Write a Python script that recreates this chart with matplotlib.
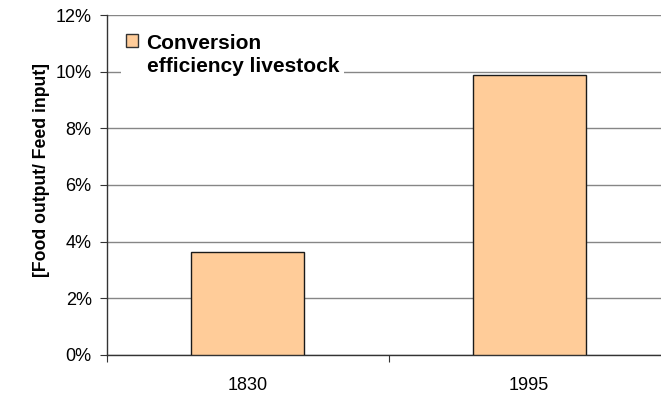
import matplotlib
matplotlib.use("Agg")
import matplotlib.pyplot as plt
from matplotlib.patches import Patch
from matplotlib.ticker import FixedLocator, PercentFormatter

# conversion efficiency of livestock (food output / feed input)
years = ["1830", "1995"]
efficiency = [3.65, 9.88]  # percent

plt.rcParams["font.family"] = ["Liberation Sans", "DejaVu Sans"]

fig = plt.figure(figsize=(6.61, 3.95), dpi=100)
ax = fig.add_axes([0.1619, 0.1013, 0.8517, 0.8607])

x = range(len(years))
ax.bar(x, efficiency, width=0.4, color="#FFCC99", edgecolor="#1a1a1a",
       linewidth=1.0, zorder=3, label="Conversion\nefficiency livestock")

ax.set_xlim(-0.5, len(years) - 0.5)
ax.set_ylim(0, 12)
ax.set_yticks(range(0, 13, 2))
ax.yaxis.set_major_formatter(PercentFormatter(decimals=0))
ax.grid(axis="y", color="#868686", linewidth=1.0, zorder=0)

# ticks sit between categories, labels at the category centres
ax.xaxis.set_major_locator(FixedLocator([-0.5, 0.5, 1.5]))
ax.xaxis.set_minor_locator(FixedLocator(list(x)))
ax.xaxis.set_major_formatter(plt.NullFormatter())
ax.set_xticklabels(years, minor=True)
ax.tick_params(axis="x", which="major", length=5, width=0.8, color="#333333")
ax.tick_params(axis="x", which="minor", length=0, pad=16, labelsize=13)
ax.tick_params(axis="y", length=5, width=0.8, pad=6, labelsize=13,
               color="#333333")

for side in ("top", "right"):
    ax.spines[side].set_visible(False)
for side in ("left", "bottom"):
    ax.spines[side].set_color("#333333")
    ax.spines[side].set_linewidth(1.0)

ax.set_ylabel("[Food output/ Feed input]", fontsize=12.7, fontweight="bold")
ax.yaxis.set_label_coords(-0.102, 0.544)

handle = Patch(facecolor="#FFCC99", edgecolor="#333333", linewidth=1.0)
leg = ax.legend([handle], ["Conversion\nefficiency livestock"],
                loc="upper left", bbox_to_anchor=(0.024, 0.96),
                frameon=True, fancybox=False, framealpha=1.0,
                edgecolor="none", facecolor="white",
                prop={"size": 15, "weight": "bold"},
                handlelength=0.6, handleheight=0.6, handletextpad=0.4,
                borderpad=0.25, borderaxespad=0)
leg.get_texts()[0].set_linespacing(1.3)
# keep the marker level with the first line of the label
for column in leg._legend_handle_box.get_children():
    for row in column.get_children():
        row.align = "top"
leg.set_zorder(4)

fig.savefig("out.png", dpi=100)
